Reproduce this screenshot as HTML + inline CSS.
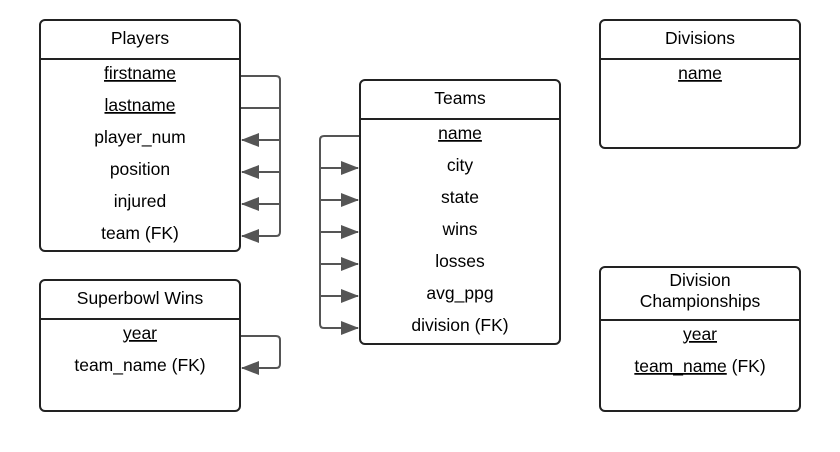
<!DOCTYPE html>
<html><head><style>body{margin:0;background:#fff}svg{display:block}</style></head><body>
<svg width="840" height="452" xmlns="http://www.w3.org/2000/svg" font-family="Liberation Sans, sans-serif" font-size="17.5" fill="#000">
<defs>
<marker id="b" markerWidth="18" markerHeight="14" refX="17" refY="7" orient="auto" markerUnits="userSpaceOnUse"><path d="M0,0 L18,7 L0,14 z" fill="#555"/></marker></defs>
<g stroke="#555" stroke-width="2" fill="none">
<path d="M240,76 H276 Q280,76 280,80 V232 Q280,236 276,236 H242" marker-end="url(#b)"/>
<path d="M240,108 H280"/>
<path d="M280,140 H242" marker-end="url(#b)"/>
<path d="M280,172 H242" marker-end="url(#b)"/>
<path d="M280,204 H242" marker-end="url(#b)"/>
<path d="M360,136 H324 Q320,136 320,140 V324 Q320,328 324,328 H358" marker-end="url(#b)"/>
<path d="M320,168 H358" marker-end="url(#b)"/>
<path d="M320,200 H358" marker-end="url(#b)"/>
<path d="M320,232 H358" marker-end="url(#b)"/>
<path d="M320,264 H358" marker-end="url(#b)"/>
<path d="M320,296 H358" marker-end="url(#b)"/>
<path d="M240,336 H276 Q280,336 280,340 V364 Q280,368 276,368 H242" marker-end="url(#b)"/>
</g>
<g stroke="#222" stroke-width="2" fill="none">
<rect x="40" y="20" width="200" height="231" rx="5"/><line x1="40" y1="59" x2="240" y2="59"/>
<rect x="360" y="80" width="200" height="264" rx="5"/><line x1="360" y1="119" x2="560" y2="119"/>
<rect x="40" y="280" width="200" height="131" rx="5"/><line x1="40" y1="319" x2="240" y2="319"/>
<rect x="600" y="20" width="200" height="128" rx="5"/><line x1="600" y1="59" x2="800" y2="59"/>
<rect x="600" y="267" width="200" height="144" rx="5"/><line x1="600" y1="320" x2="800" y2="320"/>
</g>
<g text-anchor="middle">
<text x="140" y="44">Players</text>
<text x="140" y="79" text-decoration="underline">firstname</text>
<text x="140" y="111" text-decoration="underline">lastname</text>
<text x="140" y="143">player_num</text>
<text x="140" y="175">position</text>
<text x="140" y="207">injured</text>
<text x="140" y="239">team (FK)</text>
<text x="460" y="104">Teams</text>
<text x="460" y="139" text-decoration="underline">name</text>
<text x="460" y="171">city</text>
<text x="460" y="203">state</text>
<text x="460" y="235">wins</text>
<text x="460" y="267">losses</text>
<text x="460" y="299">avg_ppg</text>
<text x="460" y="331">division (FK)</text>
<text x="140" y="304">Superbowl Wins</text>
<text x="140" y="339" text-decoration="underline">year</text>
<text x="140" y="371">team_name (FK)</text>
<text x="700" y="44">Divisions</text>
<text x="700" y="79" text-decoration="underline">name</text>
<text x="700" y="286">Division</text>
<text x="700" y="307">Championships</text>
<text x="700" y="340" text-decoration="underline">year</text>
<text x="700" y="372"><tspan text-decoration="underline">team_name</tspan> (FK)</text>
</g>
</svg>
</body></html>
